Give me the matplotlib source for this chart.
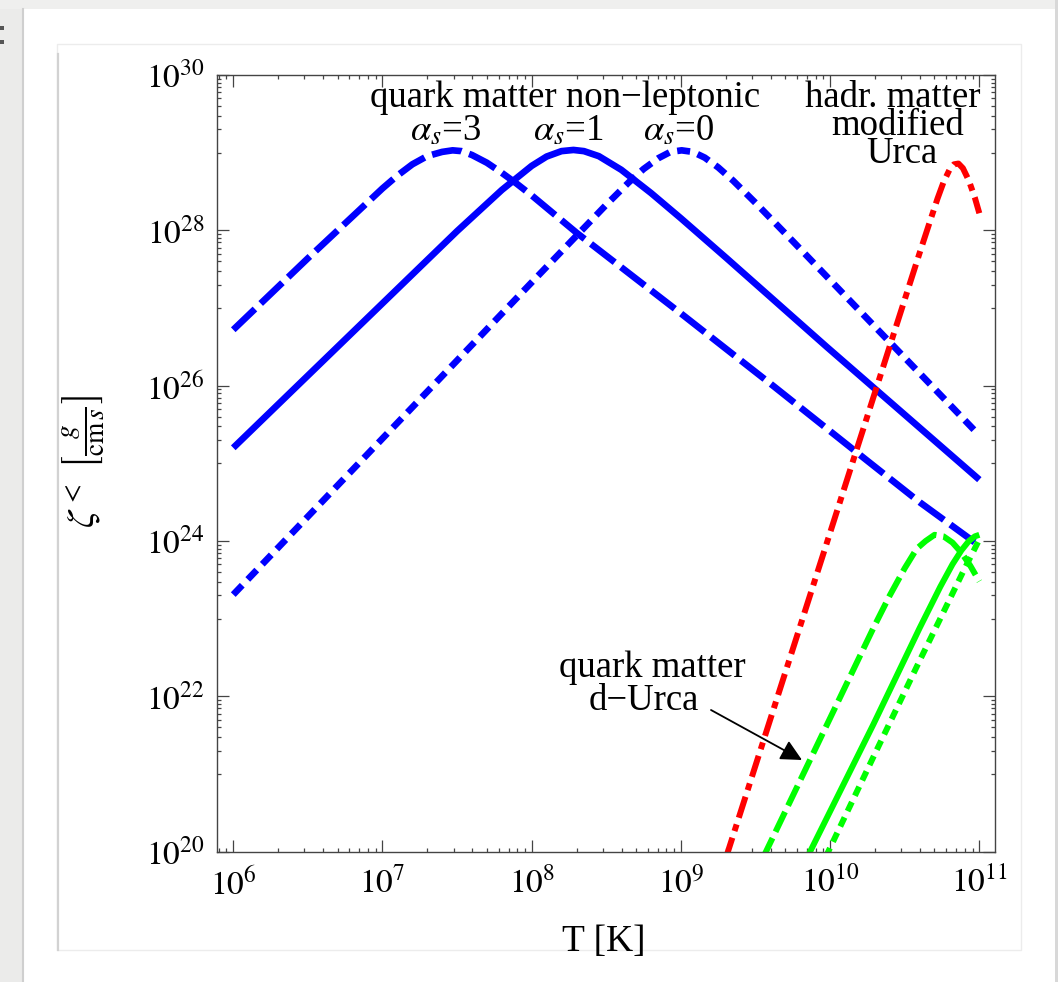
import matplotlib
matplotlib.use("Agg")
import matplotlib.pyplot as plt
import matplotlib.ticker as mticker
from matplotlib.patches import Rectangle
from matplotlib.lines import Line2D

plt.rcParams['font.family'] = ['Liberation Serif', 'DejaVu Serif']
plt.rcParams['mathtext.fontset'] = 'stix'
plt.rcParams['lines.scale_dashes'] = False

# ---------------- data (log10 T [K], log10 zeta [g/(cm s)]) ----------------
# quark matter non-leptonic, alpha_s = 3 (dashed blue)
nl_as3_logT = [6.0, 6.5, 7.0, 7.1, 7.2, 7.3, 7.4, 7.47, 7.53, 7.6, 7.7, 7.8, 7.9, 8.0,
               8.3, 9.0, 9.617, 10.245, 10.6, 11.0]
nl_as3_logz = [26.72, 27.64, 28.54, 28.705, 28.85, 28.956, 29.01, 29.03, 29.02, 28.97,
               28.87, 28.74, 28.60, 28.45, 27.97, 26.93, 26.00, 25.04, 24.50, 23.94]
# quark matter non-leptonic, alpha_s = 1 (solid blue)
nl_as1_logT = [6.0, 6.5, 7.0, 7.5, 7.8, 8.0, 8.1, 8.2, 8.28, 8.35, 8.45, 8.6, 8.8, 9.0,
               9.307, 9.977, 10.42, 11.0]
nl_as1_logz = [25.20, 26.13, 27.06, 27.99, 28.52, 28.83, 28.95, 29.02, 29.035, 29.02,
               28.955, 28.78, 28.48, 28.155, 27.64, 26.50, 25.76, 24.79]
# quark matter non-leptonic, alpha_s = 0 (dotted blue)
nl_as0_logT = [6.0, 7.0, 8.0, 8.3, 8.5, 8.65, 8.75, 8.85, 8.93, 9.005, 9.08, 9.16, 9.25,
               9.35, 9.5, 9.753, 10.0, 10.42, 11.0]
nl_as0_logz = [23.31, 25.32, 27.33, 27.93, 28.33, 28.617, 28.79, 28.93, 29.01, 29.03,
               29.01, 28.936, 28.81, 28.64, 28.354, 27.854, 27.36, 26.52, 25.36]
# hadronic matter modified Urca (dash-dot red)
murca_logT = [9.30, 9.575, 9.977, 10.155, 10.29, 10.42, 10.6, 10.67, 10.72, 10.76, 10.8,
              10.83, 10.86, 10.89, 10.93, 10.97, 11.0]
murca_logz = [19.91, 21.56, 23.97, 25.04, 25.85, 26.63, 27.71, 28.12, 28.41, 28.62, 28.78,
              28.85, 28.86, 28.80, 28.64, 28.42, 28.22]
# quark matter direct Urca, alpha_s = 3 (dashed green)
durca_as3_logT = [9.55, 10.0, 10.29, 10.4, 10.5, 10.58, 10.64, 10.7, 10.76, 10.82, 10.88,
                  10.94, 11.0]
durca_as3_logz = [19.92, 21.72, 22.88, 23.30, 23.65, 23.90, 24.00, 24.08, 24.06, 23.98,
                  23.85, 23.68, 23.48]
# quark matter direct Urca, alpha_s = 1 (solid green)
durca_as1_logT = [9.85, 10.29, 10.6, 10.738, 10.82, 10.88, 10.93, 10.97, 11.0]
durca_as1_logz = [19.94, 21.64, 22.88, 23.41, 23.70, 23.88, 24.00, 24.06, 24.08]
# quark matter direct Urca, alpha_s = 0 (dotted green)
durca_as0_logT = [9.97, 10.29, 10.6, 10.738, 10.89, 11.0]
durca_as0_logz = [19.93, 21.22, 22.46, 23.00, 23.60, 24.02]

x_tick_exps = [6, 7, 8, 9, 10, 11]
x_tick_labels = [r'$10^{6}$', r'$10^{7}$', r'$10^{8}$', r'$10^{9}$', r'$10^{10}$', r'$10^{11}$']
y_tick_exps = [20, 22, 24, 26, 28, 30]
y_tick_labels = [r'$10^{20}$', r'$10^{22}$', r'$10^{24}$', r'$10^{26}$', r'$10^{28}$', r'$10^{30}$']

# ---------------- figure ----------------
W, H = 1058, 982
fig = plt.figure(figsize=(W / 100, H / 100), dpi=100)
fig.patch.set_facecolor('white')


def fx(x):
    return x / W


def fy(y):
    return 1 - y / H


# screenshot frame decorations
fig.add_artist(Rectangle((0, 0), fx(22), 1, transform=fig.transFigure,
                         facecolor='#ebebea', edgecolor='none', zorder=0))
fig.add_artist(Rectangle((0, fy(9)), 1, 9 / H, transform=fig.transFigure,
                         facecolor='#efefee', edgecolor='none', zorder=0))
fig.add_artist(Rectangle((fx(1055), 0), 3 / W, 1, transform=fig.transFigure,
                         facecolor='#d8d8d8', edgecolor='none', zorder=0))
fig.add_artist(Line2D([fx(23), fx(23)], [0, fy(9)], transform=fig.transFigure,
                      color='#cfcfcf', lw=1.5, zorder=1))
for yy in (28, 42):
    fig.add_artist(Rectangle((0, fy(yy + 2)), 4 / W, 4 / H, transform=fig.transFigure,
                             facecolor='#555555', edgecolor='none', zorder=1))
fig.add_artist(Rectangle((fx(57), fy(950)), (1021 - 57) / W, (950 - 44) / H,
                         transform=fig.transFigure, facecolor='none',
                         edgecolor='#ececec', lw=1.0, zorder=1))
fig.add_artist(Line2D([fx(58), fx(58)], [fy(950), fy(54)], transform=fig.transFigure,
                      color='#d2d2d2', lw=1.6, zorder=1))

ax = fig.add_axes([fx(217.3), fy(851.7), (995 - 217.3) / W, (851.7 - 75) / H])
ax.set_xscale('log')
ax.set_yscale('log')


def tv(v):
    return [10.0 ** a for a in v]


def px2pt(p):
    return p * 0.72


blue, red, green = '#0000ff', '#ff0000', '#00ff00'

ax.plot(tv(nl_as3_logT), tv(nl_as3_logz), color=blue, lw=4.8, solid_joinstyle='round',
        dash_joinstyle='round', dash_capstyle='butt', dashes=(px2pt(30), px2pt(8)))
ax.plot(tv(nl_as1_logT), tv(nl_as1_logz), color=blue, lw=4.8, solid_capstyle='butt',
        solid_joinstyle='round')
ax.plot(tv(nl_as0_logT), tv(nl_as0_logz), color=blue, lw=4.8, dash_capstyle='butt',
        dash_joinstyle='round', dashes=(px2pt(13), px2pt(8)))
ax.plot(tv(murca_logT), tv(murca_logz), color=red, lw=4.3, dash_capstyle='butt',
        dash_joinstyle='round', dashes=(px2pt(22), px2pt(7), px2pt(7), px2pt(7)))
ax.plot(tv(durca_as3_logT), tv(durca_as3_logz), color=green, lw=4.3, dash_capstyle='butt',
        dash_joinstyle='round', dashes=(px2pt(22), px2pt(7)))
ax.plot(tv(durca_as1_logT), tv(durca_as1_logz), color=green, lw=4.3, solid_capstyle='butt',
        solid_joinstyle='round')
ax.plot(tv(durca_as0_logT), tv(durca_as0_logz), color=green, lw=4.3, dash_capstyle='butt',
        dash_joinstyle='round', dashes=(px2pt(10), px2pt(7)))

ax.set_xlim(10 ** 5.893, 10 ** 11.105)
ax.set_ylim(1e20, 1e30)

ax.xaxis.set_major_locator(mticker.FixedLocator(tv(x_tick_exps)))
ax.xaxis.set_major_formatter(mticker.FixedFormatter(x_tick_labels))
ax.xaxis.set_minor_locator(mticker.LogLocator(base=10, subs=[2, 3, 4, 5, 6, 7, 8, 9],
                                              numticks=50))
ax.xaxis.set_minor_formatter(mticker.NullFormatter())
ax.yaxis.set_major_locator(mticker.FixedLocator(tv(y_tick_exps)))
ax.yaxis.set_major_formatter(mticker.FixedFormatter(y_tick_labels))
y_minor = [k * 10.0 ** m for m in (21, 23, 25, 27, 29) for k in range(1, 10)]
ax.yaxis.set_minor_locator(mticker.FixedLocator(y_minor))
ax.yaxis.set_minor_formatter(mticker.NullFormatter())

frame_col = '#444444'
for s in ax.spines.values():
    s.set_color(frame_col)
    s.set_linewidth(1.0)
ax.tick_params(which='both', direction='in', top=True, right=True, color=frame_col,
               width=0.9)
ax.tick_params(which='major', length=8.4, labelsize=24)
ax.tick_params(which='minor', length=3.2)
ax.tick_params(axis='x', which='major', pad=11)
ax.tick_params(axis='y', which='major', pad=9)

# axis labels
fig.text(fx(604), fy(942), 'T [K]', fontsize=27, ha='center', va='center')
fig.text(fx(84), fy(462), r'$\zeta^{<}\ \left[\frac{g}{\mathrm{cm}\,s}\right]$',
         fontsize=28, rotation=90, ha='center', va='center')

# annotations
fs = 26.5
fig.text(fx(565), fy(107), 'quark matter non\u2212leptonic', fontsize=fs,
         ha='center', va='baseline')
fig.text(fx(446), fy(140), r'$\alpha_s$=3', fontsize=fs, ha='center', va='baseline')
fig.text(fx(568), fy(140), r'$\alpha_s$=1', fontsize=fs, ha='center', va='baseline')
fig.text(fx(679), fy(140), r'$\alpha_s$=0', fontsize=fs, ha='center', va='baseline')
fig.text(fx(893), fy(107), 'hadr. matter', fontsize=fs, ha='center', va='baseline')
fig.text(fx(898), fy(135), 'modified', fontsize=fs, ha='center', va='baseline')
fig.text(fx(902), fy(163), 'Urca', fontsize=fs, ha='center', va='baseline')
fig.text(fx(652), fy(677), 'quark matter', fontsize=fs, ha='center', va='baseline')
fig.text(fx(644), fy(710), 'd\u2212Urca', fontsize=fs, ha='center', va='baseline')

ax.annotate('', xy=(fx(802), fy(760)), xycoords='figure fraction',
            xytext=(fx(711), fy(710)), textcoords='figure fraction',
            arrowprops=dict(arrowstyle='-|>', color='black', lw=1.3,
                            mutation_scale=32, shrinkA=0, shrinkB=0))

fig.savefig('out.png', dpi=100, facecolor='white')
